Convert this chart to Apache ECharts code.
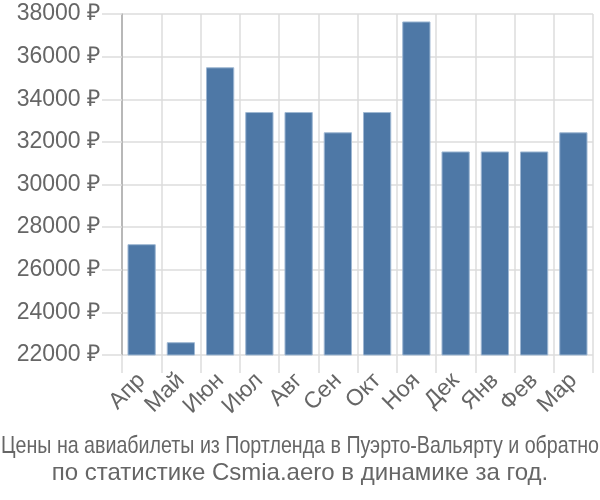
<!DOCTYPE html>
<html><head><meta charset="utf-8">
<script src="https://cdn.jsdelivr.net/npm/echarts@6/dist/echarts.min.js"></script>
<style>html,body{margin:0;padding:0;background:#fff}#c{width:600px;height:500px}</style>
</head><body><div id="c"></div>
<script>
const categories = ['Апр','Май','Июн','Июл','Авг','Сен','Окт','Ноя','Дек','Янв','Фев','Мар'];
const prices = [27200, 22600, 35500, 33400, 33400, 32450, 33400, 37650, 31550, 31550, 31550, 32450];
const yMin = 22000, yMax = 38000, yStep = 2000;
const titleLine1 = 'Цены на авиабилеты из Портленда в Пуэрто-Вальярту и обратно';
const titleLine2 = 'по статистике Csmia.aero в динамике за год.';

const font = '"Liberation Sans", Arial, sans-serif';
const titleSize = 24;
const ctx = document.createElement('canvas').getContext('2d');
ctx.font = titleSize + 'px ' + font;
const w1 = ctx.measureText(titleLine1).width;
const sx = Math.min(1, 598 / w1);

const chart = echarts.init(document.getElementById('c'), null, {renderer:'canvas'});
chart.setOption({
  animation: false,
  graphic: [
    {type:'text', x:300, y:446, scaleX:sx, style:{text:titleLine1, font: titleSize + 'px ' + font, fill:'#666', align:'center', verticalAlign:'middle'}},
    {type:'text', x:300, y:473, style:{text:titleLine2, font: titleSize + 'px ' + font, fill:'#666', align:'center', verticalAlign:'middle'}}
  ],
  grid: {left: 122, right: 7, top: 14, bottom: 145, containLabel:false},
  xAxis: {
    type:'category', data: categories,
    axisLine:{show:false},
    axisTick:{show:true, length:18, lineStyle:{color:'#ddd', width:1.5}},
    splitLine:{show:true, lineStyle:{color:'#ddd', width:1.5}},
    axisLabel:{rotate:45, fontSize:23, color:'#666', fontFamily:font, margin:22, interval:0}
  },
  yAxis: {
    type:'value', min:yMin, max:yMax, interval:yStep,
    axisLine:{show:true, lineStyle:{color:'#aaa', width:1.5}},
    axisTick:{show:true, length:20, lineStyle:{color:'#ddd', width:1.5}},
    splitLine:{show:true, lineStyle:{color:'#ddd', width:1.5}},
    axisLabel:{fontSize:23, color:'#666', fontFamily:font, margin:22, formatter: v => v + ' ₽'}
  },
  series: [{
    type:'bar', data: prices, barCategoryGap:'28%',
    itemStyle:{color:'#4e78a6', borderColor:'#9fb8d3', borderWidth:1}
  }]
});
</script></body></html>
